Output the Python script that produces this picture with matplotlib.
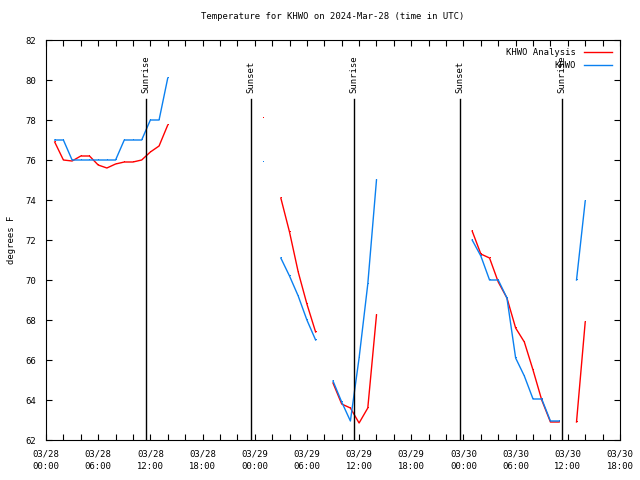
import numpy as np
import matplotlib
matplotlib.use('Agg')
import matplotlib.pyplot as plt

nan = np.nan

# Hours since 2024-03-28 00:00 UTC
hours = list(range(0, 63))

# KHWO Analysis (red)
analysis = [nan, 76.9, 76.0, 75.95, 76.2, 76.2, 75.75, 75.6, 75.8, 75.9, 75.9, 76.0, 76.4, 76.7, 77.75,
            nan, nan, nan, nan, nan, nan, nan, nan, nan, nan,
            78.1, nan,
            74.1, 72.4, 70.4, 68.8, 67.4, nan,
            64.85, 63.8, 63.6, 62.85, 63.6, 68.25,
            nan, nan, nan, nan, nan, nan, nan, nan, nan, nan,
            72.45, 71.3, 71.1, 69.9, 69.1, 67.6, 66.9, 65.5, 64.0, 62.9, 62.9, nan,
            62.9, 67.9]

# KHWO observations (blue)
observed = [nan, 77.0, 77.0, 76.0, 76.0, 76.0, 76.0, 76.0, 76.0, 77.0, 77.0, 77.0, 78.0, 78.0, 80.1,
            nan, nan, nan, nan, nan, nan, nan, nan, nan, nan,
            75.9, nan,
            71.1, 70.2, 69.2, 68.0, 67.0, nan,
            64.95, 63.9, 62.95, 66.1, 69.8, 75.0,
            nan, nan, nan, nan, nan, nan, nan, nan, nan, nan,
            72.0, 71.2, 70.0, 70.0, 69.1, 66.1, 65.2, 64.05, 64.05, 62.95, 62.95, nan,
            70.0, 73.95]

# Sun events (hours since start) and their labels
sun_hours = [11.46, 23.57, 35.45, 47.6, 59.33]
sun_labels = ['Sunrise', 'Sunset', 'Sunrise', 'Sunset', 'Sunrise']

tick_hours = list(range(0, 67, 6))
tick_labels = ['03/28\n00:00', '03/28\n06:00', '03/28\n12:00', '03/28\n18:00',
               '03/29\n00:00', '03/29\n06:00', '03/29\n12:00', '03/29\n18:00',
               '03/30\n00:00', '03/30\n06:00', '03/30\n12:00', '03/30\n18:00']

plt.rcParams['font.family'] = ['DejaVu Sans Mono']
fs = 6.4

fig = plt.figure(figsize=(6.4, 4.8), dpi=100, facecolor='w')
ax = fig.add_axes([46/640, 40/480, 574/640, 400/480])

# pixel markers so isolated hourly values still show up
ax.plot(hours, analysis, color='#ff0000', lw=1.0, marker=',', label='KHWO Analysis')
ax.plot(hours, observed, color='#0a80f0', lw=1.0, marker=',', label='KHWO')

for h, lab in zip(sun_hours, sun_labels):
    ax.plot([h, h], [0, 0.8525], color='black', lw=1.0, transform=ax.get_xaxis_transform())
    ax.text(h, 0.8675, lab, rotation=90, ha='center', va='bottom', fontsize=fs,
            transform=ax.get_xaxis_transform())

ax.set_xlim(0, 66)
ax.set_ylim(62, 82)
ax.set_xticks(tick_hours)
ax.set_xticklabels(tick_labels, fontsize=fs, linespacing=1.4)
ax.set_xticks(list(range(0, 67, 2)), minor=True)
ax.set_yticks(list(range(62, 83, 2)))
ax.tick_params(axis='both', which='both', direction='in', length=4, width=0.8,
               top=True, right=True, labelsize=fs)
ax.tick_params(axis='x', which='major', pad=7)
ax.tick_params(axis='y', which='major', pad=7)
ax.set_ylabel('degrees F', fontsize=fs, labelpad=7)
ax.set_title('Temperature for KHWO on 2024-Mar-28 (time in UTC)', fontsize=fs, pad=15)

legend = ax.legend(loc='upper right', frameon=False, markerfirst=False, fontsize=fs,
                   handlelength=3.2, handletextpad=0.9, labelspacing=0.45,
                   borderaxespad=0.5)
for hd in legend.legend_handles:
    hd.set_marker('')

plt.savefig('out.png', dpi=100)
